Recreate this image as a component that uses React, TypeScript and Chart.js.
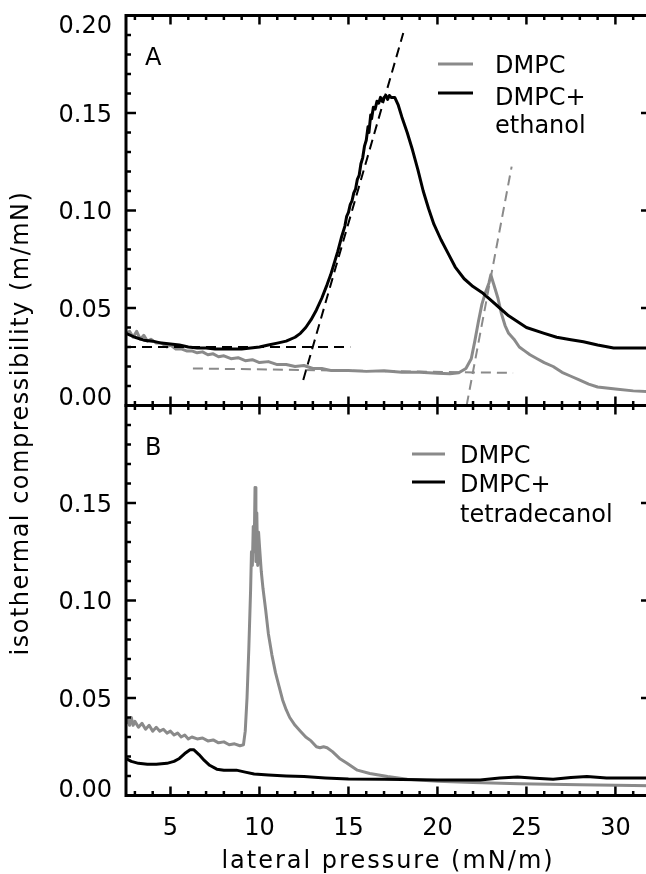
import React, { useEffect, useRef } from "react";
import { Chart, registerables } from "chart.js";
Chart.register(...registerables);

// ---------------- data ----------------
const X_MIN = 2.5;
const X_MAX = 32;
const Y_MIN = 0;
const Y_MAX = 0.2;

const xTickValues = [5, 10, 15, 20, 25, 30];
const xTickLabels = ["5", "10", "15", "20", "25", "30"];
const yTickValuesA = [0, 0.05, 0.1, 0.15, 0.2];
const yTickLabelsA = ["0.00", "0.05", "0.10", "0.15", "0.20"];
const yTickValuesB = [0, 0.05, 0.1, 0.15];
const yTickLabelsB = ["0.00", "0.05", "0.10", "0.15"];

const xTitle = "lateral pressure (mN/m)";
const yTitle = "isothermal compressibility (m/mN)";
const panelLabels = ["A", "B"];
const legendA = ["DMPC", "DMPC+", "ethanol"];
const legendB = ["DMPC", "DMPC+", "tetradecanol"];

// Panel A, DMPC (gray)
const aGrayX = [2.5, 2.7, 2.9, 3.1, 3.3, 3.5, 3.7, 3.9, 4.2, 4.5, 4.8, 5.0, 5.3, 5.6, 5.9, 6.2, 6.5, 6.8, 7.1, 7.4, 7.7, 8.0, 8.4, 8.8, 9.2, 9.6, 10.0, 10.5, 11.0, 11.5, 12.0, 12.5, 13.0, 13.5, 14.0, 15.0, 16.0, 17.0, 18.0, 19.0, 20.0, 20.7, 21.2, 21.6, 21.9, 22.1, 22.3, 22.5, 22.7, 22.9, 23.0, 23.1, 23.2, 23.4, 23.6, 23.8, 24.0, 24.3, 24.6, 24.9, 25.2, 25.6, 26.0, 26.5, 27.0, 27.5, 28.0, 28.5, 29.0, 30.0, 31.0, 32.0];
const aGrayY = [0.037, 0.038, 0.035, 0.038, 0.034, 0.036, 0.033, 0.034, 0.032, 0.032, 0.030, 0.031, 0.029, 0.029, 0.028, 0.028, 0.027, 0.0275, 0.026, 0.0265, 0.025, 0.0255, 0.024, 0.0245, 0.023, 0.0235, 0.022, 0.0225, 0.021, 0.021, 0.020, 0.0205, 0.019, 0.019, 0.018, 0.018, 0.0175, 0.0178, 0.017, 0.017, 0.0165, 0.0163, 0.0168, 0.019, 0.024, 0.033, 0.043, 0.052, 0.058, 0.063, 0.067, 0.064, 0.061, 0.055, 0.047, 0.041, 0.037, 0.034, 0.030, 0.028, 0.026, 0.024, 0.022, 0.020, 0.017, 0.015, 0.013, 0.011, 0.0095, 0.0085, 0.0075, 0.007];

// Panel A, DMPC + ethanol (black)
const aBlackX = [2.5, 3.0, 3.5, 4.0, 4.5, 5.0, 5.5, 6.0, 6.5, 7.0, 7.5, 8.0, 8.5, 9.0, 9.5, 10.0, 10.5, 11.0, 11.5, 12.0, 12.3, 12.6, 12.9, 13.2, 13.5, 13.8, 14.0, 14.2, 14.4, 14.6, 14.8, 14.9, 15.0, 15.1, 15.2, 15.3, 15.4, 15.5, 15.6, 15.7, 15.8, 15.9, 16.0, 16.1, 16.15, 16.25, 16.3, 16.4, 16.5, 16.6, 16.7, 16.8, 16.9, 17.0, 17.1, 17.2, 17.3, 17.4, 17.6, 17.8, 18.0, 18.3, 18.6, 18.9, 19.2, 19.5, 19.8, 20.2, 20.6, 21.0, 21.5, 22.0, 22.5, 23.0, 23.5, 24.0, 25.0, 26.0, 26.7, 27.5, 28.2, 29.0, 29.9, 31.0, 32.0];
const aBlackY = [0.037, 0.035, 0.0335, 0.033, 0.032, 0.0315, 0.031, 0.030, 0.0295, 0.0295, 0.029, 0.029, 0.029, 0.029, 0.0295, 0.030, 0.031, 0.032, 0.033, 0.035, 0.037, 0.040, 0.044, 0.049, 0.055, 0.062, 0.067, 0.073, 0.079, 0.086, 0.092, 0.097, 0.099, 0.103, 0.105, 0.109, 0.111, 0.116, 0.118, 0.124, 0.127, 0.133, 0.136, 0.143, 0.140, 0.149, 0.147, 0.153, 0.152, 0.156, 0.155, 0.158, 0.156, 0.158, 0.159, 0.157, 0.159, 0.158, 0.158, 0.154, 0.148, 0.140, 0.131, 0.121, 0.110, 0.101, 0.093, 0.085, 0.078, 0.071, 0.065, 0.061, 0.058, 0.054, 0.050, 0.046, 0.040, 0.037, 0.035, 0.0337, 0.0327, 0.031, 0.0295, 0.0295, 0.0295];

// Panel A, guide lines (dashed)
const aBlackFlatX = [2.5, 15.1];
const aBlackFlatY = [0.030, 0.030];
const aBlackSteepX = [12.46, 18.08];
const aBlackSteepY = [0.0131, 0.191];
const aGrayFlatX = [6.26, 24.25];
const aGrayFlatY = [0.019, 0.0167];
const aGraySteepX = [21.64, 24.17];
const aGraySteepY = [0.0, 0.1225];

// Panel B, DMPC (gray)
const bGrayX = [2.5, 2.6, 2.7, 2.8, 2.9, 3.0, 3.2, 3.4, 3.6, 3.8, 4.0, 4.2, 4.4, 4.6, 4.8, 5.0, 5.2, 5.4, 5.6, 5.8, 6.0, 6.2, 6.5, 6.8, 7.1, 7.4, 7.7, 8.0, 8.3, 8.6, 8.9, 9.1, 9.2, 9.3, 9.4, 9.5, 9.55, 9.6, 9.65, 9.7, 9.75, 9.8, 9.85, 9.9, 9.95, 10.0, 10.1, 10.2, 10.35, 10.5, 10.7, 10.9, 11.1, 11.3, 11.5, 11.7, 12.0, 12.3, 12.6, 12.9, 13.2, 13.4, 13.6, 13.8, 14.1, 14.5, 14.9, 15.5, 16.2, 17.2, 18.3, 20.0, 22.0, 24.6, 28.0, 32.0];
const bGrayY = [0.037, 0.039, 0.036, 0.040, 0.036, 0.038, 0.035, 0.037, 0.034, 0.036, 0.033, 0.035, 0.033, 0.034, 0.032, 0.033, 0.031, 0.032, 0.030, 0.031, 0.029, 0.030, 0.029, 0.0295, 0.028, 0.0285, 0.027, 0.0275, 0.026, 0.0265, 0.0255, 0.026, 0.033, 0.050, 0.075, 0.105, 0.125, 0.118, 0.138, 0.125, 0.158, 0.120, 0.145, 0.118, 0.135, 0.128, 0.115, 0.106, 0.095, 0.083, 0.072, 0.063, 0.056, 0.049, 0.044, 0.040, 0.036, 0.033, 0.030, 0.028, 0.025, 0.0245, 0.025, 0.0245, 0.0225, 0.019, 0.0167, 0.013, 0.0113, 0.0097, 0.0083, 0.0073, 0.0067, 0.006, 0.0055, 0.005];

// Panel B, DMPC + tetradecanol (black)
const bBlackX = [2.5, 2.8, 3.2, 3.7, 4.2, 4.8, 5.2, 5.5, 5.8, 6.1, 6.3, 6.6, 6.9, 7.2, 7.6, 8.0, 8.7, 9.2, 9.7, 10.5, 11.5, 12.5, 13.7, 15.0, 17.0, 20.0, 22.4, 23.5, 24.5, 25.5, 26.5, 27.5, 28.4, 29.5, 31.0, 32.0];
const bBlackY = [0.019, 0.0175, 0.0165, 0.016, 0.016, 0.0165, 0.0175, 0.019, 0.0215, 0.0235, 0.0235, 0.021, 0.018, 0.0155, 0.0135, 0.013, 0.013, 0.012, 0.011, 0.0105, 0.010, 0.0097, 0.009, 0.0085, 0.0083, 0.008, 0.008, 0.009, 0.0095, 0.0088, 0.0083, 0.0092, 0.0097, 0.009, 0.009, 0.009];

// ---------------- styling ----------------
const GRAY = "rgb(138,138,138)";
const BLACK = "#000";
const FONT = "DejaVu Sans";
const W = 660;
const H = 874;
const PLOT_LEFT = 126;
const PLOT_RIGHT = 651;
const A_TOP = 15.5;
const A_BOTTOM = 405.5;
const B_BOTTOM = 795.5;

const pts = (xs: number[], ys: number[]) => xs.map((x, i) => ({ x, y: ys[i] }));

function line(ctx: CanvasRenderingContext2D, x1: number, y1: number, x2: number, y2: number) {
  ctx.beginPath();
  ctx.moveTo(x1, y1);
  ctx.lineTo(x2, y2);
  ctx.stroke();
}

function drawFrame(chart: any) {
  const { ctx, chartArea: ca, scales } = chart;
  const xs = scales.x;
  const ys = scales.y;
  ctx.save();
  ctx.strokeStyle = BLACK;
  ctx.lineCap = "butt";
  ctx.lineWidth = 2.5;
  for (let v = Math.ceil(X_MIN); v <= X_MAX; v += 1) {
    const px = xs.getPixelForValue(v);
    const len = v % 5 === 0 ? 9 : 4.5;
    line(ctx, px, ca.top, px, ca.top + len);
    line(ctx, px, ca.bottom, px, ca.bottom - len);
  }
  for (let i = 0; i <= 20; i++) {
    const py = ys.getPixelForValue(i / 100);
    const len = i % 5 === 0 ? 10 : 5;
    line(ctx, ca.left, py, ca.left + len, py);
    line(ctx, ca.right, py, ca.right - len, py);
  }
  ctx.lineWidth = 3;
  ctx.strokeRect(ca.left, ca.top, ca.right - ca.left, ca.bottom - ca.top);
  ctx.restore();
}

function drawYLabels(chart: any, values: number[], labels: string[], isB: boolean) {
  const { ctx, scales } = chart;
  const ys = scales.y;
  ctx.save();
  ctx.fillStyle = BLACK;
  ctx.font = `24px "${FONT}"`;
  ctx.textAlign = "right";
  ctx.textBaseline = "alphabetic";
  values.forEach((v, i) => {
    const py = ys.getPixelForValue(v);
    let by = py + 8.5;
    if (v === Y_MIN) by = py + (isB ? 1 : -0.5);
    if (v === Y_MAX) by = py + 17.5;
    ctx.fillText(labels[i], 112, by);
  });
  ctx.restore();
}

function drawLegend(ctx: CanvasRenderingContext2D, lx1: number, lx2: number, ly: number[], tx: number, ty: number[], texts: string[]) {
  ctx.save();
  ctx.lineWidth = 3;
  ctx.strokeStyle = GRAY;
  line(ctx, lx1, ly[0], lx2, ly[0]);
  ctx.strokeStyle = BLACK;
  line(ctx, lx1, ly[1], lx2, ly[1]);
  ctx.fillStyle = BLACK;
  ctx.font = `24px "${FONT}"`;
  ctx.textAlign = "left";
  ctx.textBaseline = "alphabetic";
  texts.forEach((t, i) => ctx.fillText(t, tx, ty[i]));
  ctx.restore();
}

const panelAPlugin = {
  id: "panelA",
  afterDraw(chart: any) {
    const ctx = chart.ctx;
    drawFrame(chart);
    drawYLabels(chart, yTickValuesA, yTickLabelsA, false);
    ctx.save();
    ctx.fillStyle = BLACK;
    ctx.font = `24px "${FONT}"`;
    ctx.textAlign = "left";
    ctx.fillText(panelLabels[0], 145, 65);
    ctx.restore();
    drawLegend(ctx, 438, 473, [64, 93], 495, [73, 105, 133], legendA);
  },
};

const panelBPlugin = {
  id: "panelB",
  afterDraw(chart: any) {
    const ctx = chart.ctx;
    const xs = chart.scales.x;
    drawFrame(chart);
    drawYLabels(chart, yTickValuesB, yTickLabelsB, true);
    ctx.save();
    ctx.fillStyle = BLACK;
    ctx.font = `24px "${FONT}"`;
    ctx.textAlign = "left";
    ctx.fillText(panelLabels[1], 145, 455);
    ctx.textAlign = "center";
    xTickValues.forEach((v, i) => ctx.fillText(xTickLabels[i], xs.getPixelForValue(v), 835));
    // x title
    (ctx as any).letterSpacing = "2px";
    ctx.fillText(xTitle, 388, 868);
    // y title
    (ctx as any).letterSpacing = "1.5px";
    ctx.translate(22, 423);
    ctx.rotate(-Math.PI / 2);
    ctx.textBaseline = "middle";
    ctx.fillText(yTitle, 0, 0);
    ctx.restore();
    drawLegend(ctx, 412, 445, [454, 482], 460, [463, 492, 522], legendB);
  },
};

function makeConfig(datasets: any[], top: number, bottom: number, plugin: any) {
  return {
    type: "line" as const,
    data: { datasets },
    options: {
      animation: false as const,
      responsive: false,
      maintainAspectRatio: false,
      devicePixelRatio: 1,
      layout: { padding: { left: PLOT_LEFT, right: W - PLOT_RIGHT, top, bottom: H - bottom } },
      elements: { point: { radius: 0 }, line: { tension: 0, borderJoinStyle: "round" as const } },
      scales: {
        x: { type: "linear" as const, min: X_MIN, max: X_MAX, display: false },
        y: { type: "linear" as const, min: Y_MIN, max: Y_MAX, display: false },
      },
      plugins: { legend: { display: false }, tooltip: { enabled: false } },
    },
    plugins: [plugin],
  };
}

const solid = (label: string, data: any[], color: string, order: number) => ({
  label, data, borderColor: color, backgroundColor: color, borderWidth: 3, fill: false, order,
});
const dashed = (label: string, data: any[], color: string) => ({
  label, data, borderColor: color, backgroundColor: color, borderWidth: 2, borderDash: [10, 6], fill: false, order: 0,
});

export default function App() {
  const refA = useRef<HTMLCanvasElement>(null);
  const refB = useRef<HTMLCanvasElement>(null);

  useEffect(() => {
    const chartA = new Chart(
      refA.current as HTMLCanvasElement,
      makeConfig(
        [
          solid("DMPC", pts(aGrayX, aGrayY), GRAY, 2),
          solid("DMPC+ethanol", pts(aBlackX, aBlackY), BLACK, 1),
          dashed("fit1", pts(aBlackFlatX, aBlackFlatY), BLACK),
          dashed("fit2", pts(aBlackSteepX, aBlackSteepY), BLACK),
          dashed("fit3", pts(aGrayFlatX, aGrayFlatY), GRAY),
          dashed("fit4", pts(aGraySteepX, aGraySteepY), GRAY),
        ],
        A_TOP,
        A_BOTTOM,
        panelAPlugin
      ) as any
    );
    const chartB = new Chart(
      refB.current as HTMLCanvasElement,
      makeConfig(
        [
          solid("DMPC", pts(bGrayX, bGrayY), GRAY, 2),
          solid("DMPC+tetradecanol", pts(bBlackX, bBlackY), BLACK, 1),
        ],
        A_BOTTOM,
        B_BOTTOM,
        panelBPlugin
      ) as any
    );
    return () => {
      chartA.destroy();
      chartB.destroy();
    };
  }, []);

  const canvasStyle: React.CSSProperties = { position: "absolute", left: 0, top: 0, width: W, height: H };
  return (
    <div style={{ position: "fixed", left: 0, top: 0, width: 646, height: 874, overflow: "hidden", background: "#fff" }}>
      <canvas ref={refB} width={W} height={H} style={canvasStyle} />
      <canvas ref={refA} width={W} height={H} style={canvasStyle} />
    </div>
  );
}
